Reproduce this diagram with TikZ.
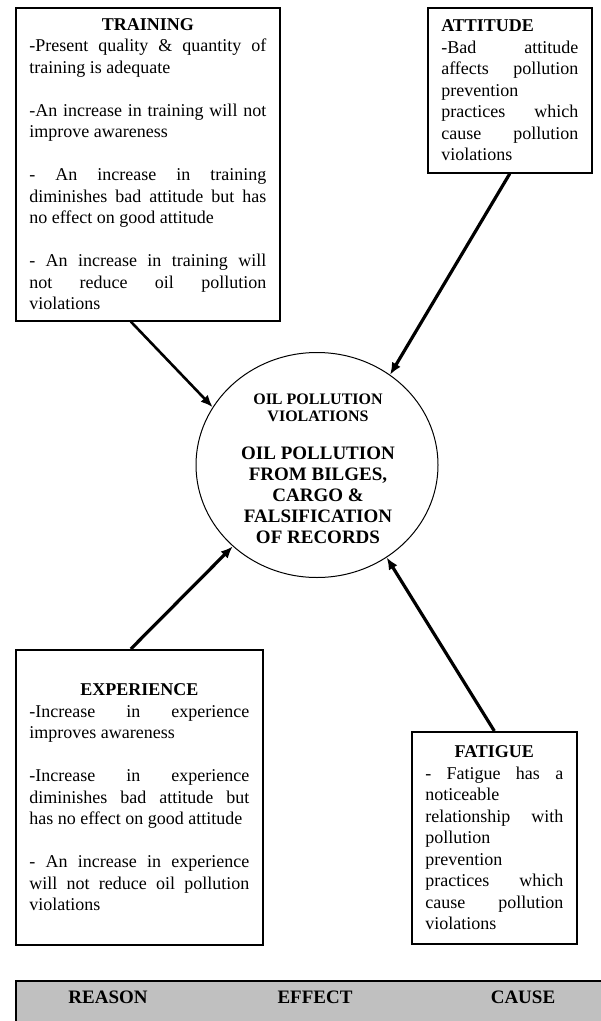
\documentclass[tikz,border=0pt]{standalone}
\usepackage{fontspec}
\setmainfont{Liberation Serif}
\usetikzlibrary{shapes.geometric,positioning,arrows.meta}
\definecolor{bandgray}{HTML}{C0C0C0}
\newcommand\boxfont{\fontsize{9}{10.75}\selectfont\hyphenpenalty=10000 \exhyphenpenalty=10000 \tolerance=10000 \hbadness=10000 }

\begin{document}
\begin{tikzpicture}
  [x=0.5pt,y=-0.5pt,
   factorN/.style={draw,line width=0.8pt,anchor=north west,inner sep=0pt,
                   align=justify,font=\boxfont},
   effectN/.style={ellipse,draw,line width=0.5pt,minimum width=121pt,minimum height=112.5pt},
   causeA/.style={-{Latex[length=6pt,width=5pt]},line width=1.6pt},
   bandL/.style={font=\fontsize{9.5}{11}\selectfont\bfseries,inner sep=0pt}]

  \useasboundingbox (0,0) rectangle (600,1021);

  \node[factorN,text width=118.5pt,minimum width=132pt,minimum height=156.5pt] (train) at (15,7)
    {\centerline{\bfseries TRAINING}
     -Present quality \& quantity of\linebreak training is adequate\\[10.75pt]
     -An increase in training will not\linebreak improve awareness\\[10.75pt]
     - An increase in training\linebreak diminishes bad attitude but has\linebreak no effect on good attitude\\[10.75pt]
     - An increase in training will\linebreak not reduce oil pollution\linebreak violations};

  \node[factorN,text width=68.5pt,minimum width=82pt,minimum height=82.5pt] (att) at (427,7)
    {{\bfseries ATTITUDE}\\
     -Bad attitude\linebreak affects pollution\linebreak prevention\linebreak practices which\linebreak
     cause pollution\linebreak violations};

  \node[effectN] (viol) at (317,465) {};
  \node[font=\fontsize{8}{8.5}\selectfont\bfseries,align=center,inner sep=0pt] (vhead) at (318,407.5)
    {OIL POLLUTION\\VIOLATIONS};
  \node[font=\fontsize{9.5}{10.5}\selectfont\bfseries,align=center,inner sep=0pt] (vbody) at (318,495)
    {OIL POLLUTION\\FROM BILGES,\\CARGO \&\\FALSIFICATION\\OF RECORDS};

  \node[factorN,text width=110pt,minimum width=123.5pt,minimum height=147.5pt] (exp) at (15,649)
    {\centerline{\bfseries EXPERIENCE}
     -Increase in experience\linebreak improves awareness\\[10.75pt]
     -Increase in experience\linebreak diminishes bad attitude but\linebreak has no effect on good attitude\\[10.75pt]
     - An increase in experience\linebreak will not reduce oil pollution\linebreak violations};

  \node[factorN,text width=69pt,minimum width=82.5pt,minimum height=106pt] (fat) at (411,731)
    {\centerline{\bfseries FATIGUE}
     - Fatigue has a\linebreak noticeable\linebreak relationship with\linebreak pollution\linebreak
     prevention\linebreak practices which\linebreak cause pollution\linebreak violations};

  \draw[causeA,line width=1.3pt] ([xshift=-8.5pt]train.south) -- (viol.151);
  \draw[causeA] (att.south) -- (viol.51);
  \draw[causeA] ([xshift=-4.25pt]exp.north) -- (viol.224);
  \draw[causeA] (fat.north) -- (viol.307);

  \node[fill=bandgray,draw,line width=0.8pt,anchor=north west,minimum width=300pt,
        minimum height=30pt,inner sep=0pt] (band) at (15,980) {};
  \node[bandL] (reason) at (108,997) {REASON};
  \node[bandL] (effect) at (315,997) {EFFECT};
  \node[bandL] (cause)  at (523,997) {CAUSE};
\end{tikzpicture}
\end{document}
